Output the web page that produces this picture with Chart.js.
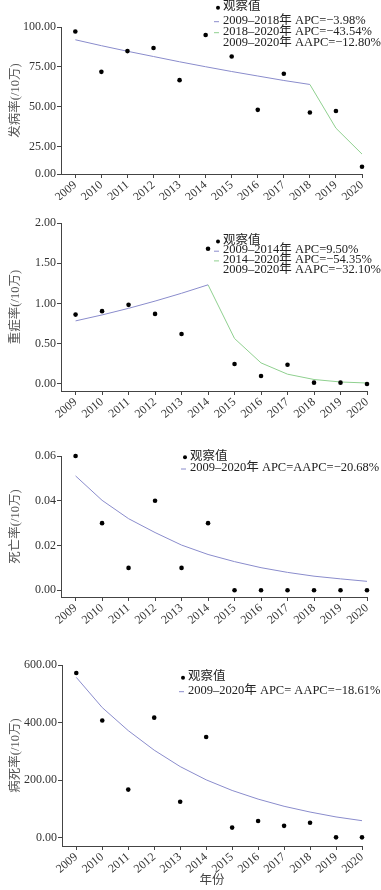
<!DOCTYPE html>
<html>
<head>
<meta charset="utf-8">
<script src="https://cdn.jsdelivr.net/npm/chart.js@4/dist/chart.umd.min.js"></script>
<style>
  html, body { margin: 0; padding: 0; background: #fff; }
  #wrap { position: relative; width: 381px; height: 890px; }
  #wrap canvas { position: absolute; left: 0; }
</style>
</head>
<body>
<div id="wrap">
  <canvas id="IncidenceChart" width="381" height="200" style="top:0px"></canvas>
  <canvas id="SevereChart" width="381" height="230" style="top:200px"></canvas>
  <canvas id="DeathChart" width="381" height="210" style="top:430px"></canvas>
  <canvas id="FatalityChart" width="381" height="250" style="top:640px"></canvas>
</div>
<script>
const years = [2009, 2010, 2011, 2012, 2013, 2014, 2015, 2016, 2017, 2018, 2019, 2020]

// 发病率 (/10万)
const incidenceObserved = [97.2, 71.9, 84.9, 86.8, 66.7, 95.0, 81.5, 48.1, 70.7, 46.4, 47.4, 12.4]
const incidenceTrend1 = [92.0, 88.3, 84.8, 81.5, 78.2, 75.1, 72.1, 69.3, 66.5, 64.0, null, null]
const incidenceTrend2 = [null, null, null, null, null, null, null, null, null, 64.0, 36.6, 20.4]
const incidenceTicks = [0, 25, 50, 75, 100]
const incidenceLegend = ['观察值', '2009–2018年 APC=−3.98%', '2018–2020年 APC=−43.54%', '2009–2020年 AAPC=−12.80%']

// 重症率 (/10万)
const severeObserved = [0.862, 0.905, 0.983, 0.871, 0.622, 1.68, 0.249, 0.10, 0.24, 0.017, 0.017, 0.0]
const severeTrend1 = [0.784, 0.858, 0.94, 1.03, 1.127, 1.232, null, null, null, null, null, null]
const severeTrend2 = [null, null, null, null, null, 1.232, 0.565, 0.262, 0.122, 0.056, 0.025, 0.012]
const severeTicks = [0, 0.5, 1, 1.5, 2]
const severeLegend = ['观察值', '2009–2014年 APC=9.50%', '2014–2020年 APC=−54.35%', '2009–2020年 AAPC=−32.10%']

// 死亡率 (/10万)
const deathObserved = [0.06, 0.03, 0.01, 0.04, 0.01, 0.03, 0, 0, 0, 0, 0, 0]
const deathTrend = [0.0511, 0.0402, 0.032, 0.0258, 0.0202, 0.016, 0.0128, 0.0101, 0.008, 0.0063, 0.0051, 0.004]
const deathTicks = [0, 0.02, 0.04, 0.06]
const deathLegend = ['观察值', '2009–2020年 APC=AAPC=−20.68%']

// 病死率 (/10万)
const fatalityObserved = [572, 407, 167, 417, 125, 350, 35, 58, 41, 52, 1, 1]
const fatalityTrend = [557, 452, 372, 304, 247, 201, 164, 134, 109, 89, 72, 59]
const fatalityTicks = [0, 200, 400, 600]
const fatalityLegend = ['观察值', '2009–2020年 APC= AAPC=−18.61%']

const BLUE = '#8a8ccc'
const GREEN = '#8fd08f'
const AXIS = '#444'
const SERIF = '"Liberation Serif", "Noto Sans CJK SC", serif'

Chart.defaults.font.family = SERIF
Chart.defaults.color = '#333'

function toPoints(values) {
  return years
    .map((yr, i) => ({ x: yr, y: values[i] }))
    .filter((p) => p.y !== null)
}

function observedDataset(values) {
  return {
    label: 'observed',
    data: toPoints(values),
    pointRadius: 2.3,
    pointBackgroundColor: '#000',
    pointBorderWidth: 0,
    showLine: false,
    clip: false
  }
}

function trendDataset(values, color) {
  return {
    label: 'trend',
    data: toPoints(values),
    showLine: true,
    borderColor: color,
    borderWidth: 1,
    pointRadius: 0,
    tension: 0,
    clip: false
  }
}

// small legend drawn as text lines, like the printed figure
function legendPlugin(cfg) {
  return {
    id: 'apcLegend',
    afterDraw(chart) {
      const ctx = chart.ctx
      ctx.save()
      ctx.font = '12.5px ' + SERIF
      ctx.textBaseline = 'middle'
      ctx.textAlign = 'left'
      cfg.items.forEach((item, i) => {
        const y = cfg.ys[i]
        if (item.marker === 'dot') {
          ctx.fillStyle = '#000'
          ctx.beginPath()
          ctx.arc(cfg.x - 5, y + 1, 2, 0, Math.PI * 2)
          ctx.fill()
        } else if (item.marker === 'line') {
          ctx.strokeStyle = item.color
          ctx.lineWidth = 1
          ctx.beginPath()
          ctx.moveTo(cfg.x - 9, y + 1)
          ctx.lineTo(cfg.x - 4, y + 1)
          ctx.stroke()
        }
        ctx.fillStyle = '#222'
        ctx.fillText(item.text, cfg.x, y)
      })
      ctx.restore()
    }
  }
}

function renderPanel(id, opts) {
  const ctx = document.getElementById(id)
  return new Chart(ctx, {
    type: 'scatter',
    data: { datasets: opts.datasets },
    options: {
      responsive: false,
      animation: false,
      devicePixelRatio: 1,
      layout: {
        padding: { top: opts.top, right: opts.right, left: 0, bottom: 0 }
      },
      plugins: {
        legend: { display: false },
        tooltip: { enabled: false }
      },
      scales: {
        x: {
          type: 'linear',
          min: 2008.45,
          max: 2020,
          afterBuildTicks: (scale) => {
            scale.ticks = years.map((v) => ({ value: v }))
          },
          afterFit: (scale) => {
            scale.height = opts.xHeight
          },
          ticks: {
            callback: (value) => String(value),
            minRotation: 40,
            maxRotation: 40,
            padding: 0,
            color: '#333',
            font: { size: 12 }
          },
          grid: {
            drawOnChartArea: false,
            tickLength: 4,
            color: AXIS
          },
          border: { color: AXIS },
          title: {
            display: !!opts.xTitle,
            text: opts.xTitle || '',
            color: '#444',
            font: { size: 12.5 },
            padding: { top: 0, bottom: 2 }
          }
        },
        y: {
          min: opts.yMin,
          max: opts.yMax,
          afterBuildTicks: (scale) => {
            // the printed figure puts its 0.00 label on the axis floor
            scale.ticks = opts.yTicks.map((v) => ({ value: Math.max(v, scale.min) }))
          },
          afterFit: (scale) => {
            scale.width = opts.yWidth
          },
          ticks: {
            callback: (value, index) => opts.yTicks[index].toFixed(2),
            padding: 1,
            color: '#333',
            font: { size: 12 }
          },
          grid: {
            drawOnChartArea: false,
            tickLength: 4,
            color: AXIS
          },
          border: { color: AXIS },
          title: {
            display: true,
            text: opts.yTitle,
            color: '#555',
            font: { size: 12.5 },
            padding: { top: 8, bottom: 0 }
          }
        }
      }
    },
    plugins: [legendPlugin(opts.legend)]
  })
}

renderPanel('IncidenceChart', {
  datasets: [
    observedDataset(incidenceObserved),
    trendDataset(incidenceTrend1, BLUE),
    trendDataset(incidenceTrend2, GREEN)
  ],
  yMin: 7.9,
  yMax: 100,
  yTicks: incidenceTicks,
  yTitle: '发病率(/10万)',
  top: 27,
  right: 19,
  xHeight: 26,
  yWidth: 61,
  legend: {
    x: 223,
    ys: [6.7, 20.7, 31.7, 42.7],
    items: [
      { marker: 'dot', text: incidenceLegend[0] },
      { marker: 'line', color: BLUE, text: incidenceLegend[1] },
      { marker: 'line', color: GREEN, text: incidenceLegend[2] },
      { marker: 'none', text: incidenceLegend[3] }
    ]
  }
})

renderPanel('SevereChart', {
  datasets: [
    observedDataset(severeObserved),
    trendDataset(severeTrend1, BLUE),
    trendDataset(severeTrend2, GREEN)
  ],
  yMin: -0.087,
  yMax: 2,
  yTicks: severeTicks,
  yTitle: '重症率(/10万)',
  top: 23,
  right: 14,
  xHeight: 39,
  yWidth: 61,
  legend: {
    x: 223,
    ys: [40.5, 50.2, 59.9, 69.6],
    items: [
      { marker: 'dot', text: severeLegend[0] },
      { marker: 'line', color: BLUE, text: severeLegend[1] },
      { marker: 'line', color: GREEN, text: severeLegend[2] },
      { marker: 'none', text: severeLegend[3] }
    ]
  }
})

renderPanel('DeathChart', {
  datasets: [
    observedDataset(deathObserved),
    trendDataset(deathTrend, BLUE)
  ],
  yMin: -0.003,
  yMax: 0.06,
  yTicks: deathTicks,
  yTitle: '死亡率(/10万)',
  top: 26,
  right: 14,
  xHeight: 43,
  yWidth: 61,
  legend: {
    x: 190,
    ys: [26.3, 38],
    items: [
      { marker: 'dot', text: deathLegend[0] },
      { marker: 'line', color: BLUE, text: deathLegend[1] }
    ]
  }
})

renderPanel('FatalityChart', {
  datasets: [
    observedDataset(fatalityObserved),
    trendDataset(fatalityTrend, BLUE)
  ],
  yMin: -29,
  yMax: 600,
  yTicks: fatalityTicks,
  yTitle: '病死率(/10万)',
  xTitle: '年份',
  top: 25,
  right: 19,
  xHeight: 44,
  yWidth: 62,
  legend: {
    x: 188,
    ys: [36.7, 50.7],
    items: [
      { marker: 'dot', text: fatalityLegend[0] },
      { marker: 'line', color: BLUE, text: fatalityLegend[1] }
    ]
  }
})
</script>
</body>
</html>
